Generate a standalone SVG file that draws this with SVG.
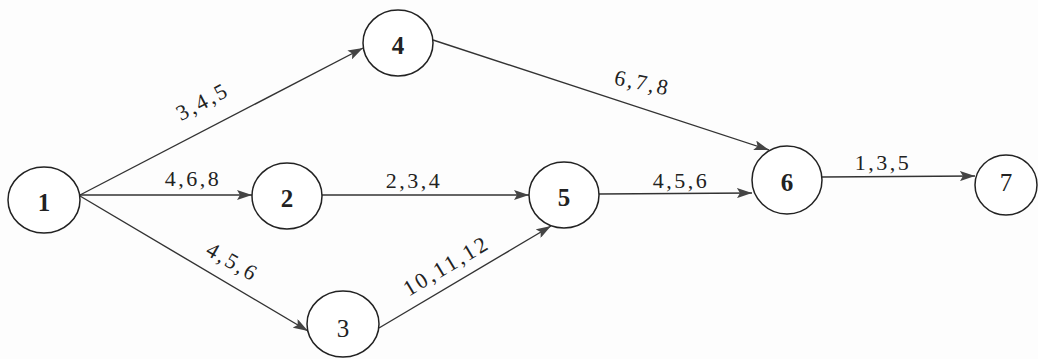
<svg xmlns="http://www.w3.org/2000/svg" width="1038" height="359" viewBox="0 0 1038 359">
<style>
.node ellipse{fill:#fff;stroke:#222;stroke-width:1.5}
.node text{font-family:'Liberation Serif','Times New Roman','DejaVu Serif',serif;font-size:25px;fill:#222;text-anchor:middle;dominant-baseline:central}
.b{font-weight:bold}
.edges line{stroke:#333;stroke-width:1.4;marker-end:url(#ah)}
.lbl{font-family:'Liberation Serif','Times New Roman','DejaVu Serif',serif;font-size:22px;letter-spacing:2.5px;fill:#222;text-anchor:middle}
</style>
<defs>
<marker id="ah" markerWidth="16" markerHeight="10" refX="15" refY="5" orient="auto" markerUnits="userSpaceOnUse">
<path d="M0,0 L15,5 L0,10 L3,5 Z" fill="#444"/>
</marker>
</defs>
<rect width="1038" height="359" fill="#fdfdfd"/>
<g class="edges">
<line x1="80" y1="195" x2="363" y2="48"/>
<line x1="80" y1="195" x2="252" y2="195"/>
<line x1="80" y1="196" x2="308" y2="331"/>
<line x1="322" y1="195" x2="529" y2="195"/>
<line x1="379" y1="328" x2="551" y2="226"/>
<line x1="433" y1="40" x2="769" y2="150"/>
<line x1="599" y1="194" x2="752" y2="193"/>
<line x1="822" y1="177" x2="975" y2="176"/>
</g>
<g id="labels">
<text class="lbl" transform="translate(206,108) rotate(-28)">3,4,5</text>
<text class="lbl" x="193" y="186">4,6,8</text>
<text class="lbl" transform="translate(229,268) rotate(30)">4,5,6</text>
<text class="lbl" x="414" y="188">2,3,4</text>
<text class="lbl" transform="translate(450,272) rotate(-31)">10,11,12</text>
<text class="lbl" transform="translate(641,90) rotate(12)">6,7,8</text>
<text class="lbl" x="681" y="188">4,5,6</text>
<text class="lbl" x="883" y="170">1,3,5</text>
</g>
<g id="n1" class="node"><ellipse cx="44" cy="200" rx="36" ry="33"/><text class="b" x="44" y="202">1</text></g>
<g id="n4" class="node"><ellipse cx="398" cy="43" rx="35" ry="33"/><text class="b" x="398" y="45">4</text></g>
<g id="n2" class="node"><ellipse cx="287" cy="196" rx="35" ry="33"/><text class="b" x="287" y="198">2</text></g>
<g id="n3" class="node"><ellipse cx="343" cy="324" rx="36" ry="33"/><text x="343" y="328">3</text></g>
<g id="n5" class="node"><ellipse cx="564" cy="195" rx="35" ry="33"/><text class="b" x="564" y="197">5</text></g>
<g id="n6" class="node"><ellipse cx="787" cy="180" rx="35" ry="34"/><text class="b" x="787" y="182">6</text></g>
<g id="n7" class="node"><ellipse cx="1006" cy="185" rx="31" ry="30"/><text x="1006" y="182">7</text></g>
</svg>
